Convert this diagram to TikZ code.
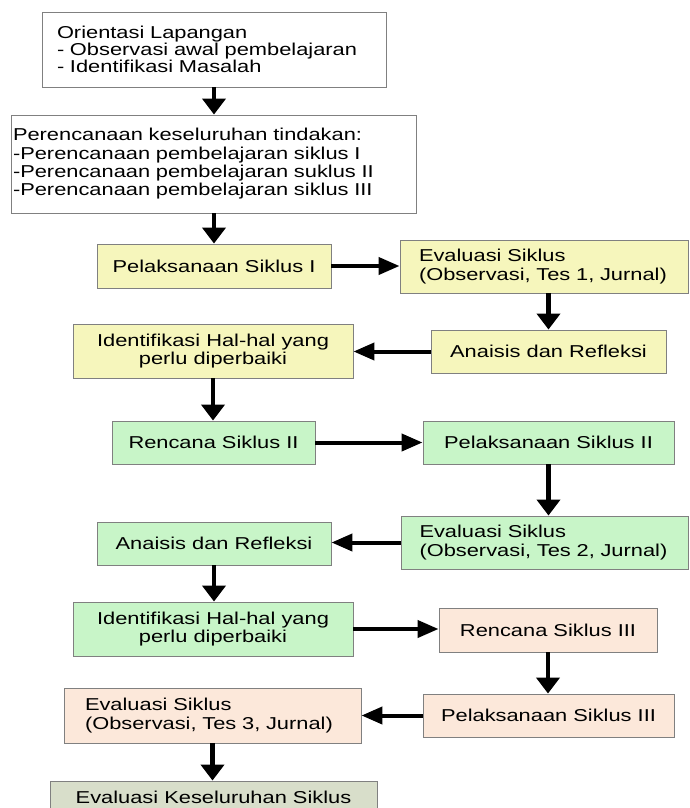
\documentclass[tikz,border=0pt]{standalone}
\usepackage{fontspec}
\newfontfamily\kotakfont[FakeStretch=1.27]{Liberation Sans}
\usetikzlibrary{arrows.meta}
\definecolor{garis}{RGB}{128,128,128}
\definecolor{kuning}{RGB}{246,246,188}
\definecolor{hijau}{RGB}{200,245,200}
\definecolor{krem}{RGB}{252,232,218}
\definecolor{abu}{RGB}{216,222,202}

\begin{document}
\begin{tikzpicture}[x=1pt,y=-1pt,
    kotak/.style={draw=garis, line width=0.9pt, inner sep=0pt, align=center,
      font=\kotakfont\fontsize{17.2}{18.5}\selectfont},
    panah/.style={line width=4.5pt, -{Triangle[length=16pt,width=23pt]}},
    panahx/.style={line width=4pt, -{Triangle[length=21pt,width=17pt]}}]
    \useasboundingbox (0,0) rectangle (689,808);
    \fill[white] (0,0) rectangle (689,808);

    \node[kotak, fill=white, minimum width=344pt, minimum height=75pt, text width=314pt, align=left,
      font=\kotakfont\fontsize{17.2}{17.2}\selectfont] (orient) at (214,49.5)
      {Orientasi Lapangan\\- Observasi awal pembelajaran\\- Identifikasi Masalah};
    \node[kotak, fill=white, minimum width=405pt, minimum height=98pt, text width=401pt, align=left,
      font=\kotakfont\fontsize{17.2}{18.3}\selectfont] (rencana) at (213.5,164)
      {Perencanaan keseluruhan tindakan:\\-Perencanaan pembelajaran siklus I\\-Perencanaan pembelajaran suklus II\\-Perencanaan pembelajaran siklus III};

    \node[kotak, fill=kuning, minimum width=234pt, minimum height=44pt] (pel1) at (214,266) {Pelaksanaan Siklus I};
    \node[kotak, fill=kuning, minimum width=288pt, minimum height=53pt, text width=250pt, align=left,
      font=\kotakfont\fontsize{17.2}{19.3}\selectfont] (eval1) at (544,266.5)
      {Evaluasi Siklus\\(Observasi, Tes 1, Jurnal)};
    \node[kotak, fill=kuning, minimum width=235pt, minimum height=43pt] (ana1) at (548.5,351.5) {Anaisis dan Refleksi};
    \node[kotak, fill=kuning, minimum width=280pt, minimum height=54pt] (iden1) at (213,351)
      {Identifikasi Hal-hal yang\\perlu diperbaiki};

    \node[kotak, fill=hijau, minimum width=203pt, minimum height=43pt] (ren2) at (213.5,442.5) {Rencana Siklus II};
    \node[kotak, fill=hijau, minimum width=251pt, minimum height=43pt] (pel2) at (548.5,442.5) {Pelaksanaan Siklus II};
    \node[kotak, fill=hijau, minimum width=287pt, minimum height=53pt, text width=250pt, align=left,
      font=\kotakfont\fontsize{17.2}{19.3}\selectfont] (eval2) at (544.5,542.5)
      {Evaluasi Siklus\\(Observasi, Tes 2, Jurnal)};
    \node[kotak, fill=hijau, minimum width=234pt, minimum height=43pt] (ana2) at (214,543.5) {Anaisis dan Refleksi};
    \node[kotak, fill=hijau, minimum width=280pt, minimum height=54pt] (iden2) at (213,629)
      {Identifikasi Hal-hal yang\\perlu diperbaiki};

    \node[kotak, fill=krem, minimum width=218pt, minimum height=44pt] (ren3) at (548,630) {Rencana Siklus III};
    \node[kotak, fill=krem, minimum width=251pt, minimum height=43pt] (pel3) at (548.5,715.5) {Pelaksanaan Siklus III};
    \node[kotak, fill=krem, minimum width=297pt, minimum height=55pt, text width=255pt, align=left,
      font=\kotakfont\fontsize{17.2}{19.3}\selectfont] (eval3) at (212.5,715.5)
      {Evaluasi Siklus\\(Observasi, Tes 3, Jurnal)};
    \node[kotak, fill=abu, minimum width=327pt, minimum height=32pt] (akhir) at (213.5,797) {Evaluasi Keseluruhan Siklus};

    \draw[panah] (orient.south) -- (orient.south |- rencana.north);
    \draw[panah] (rencana.south -| pel1.north) -- (pel1.north);
    \draw[panahx] (pel1.east) -- (pel1.east -| eval1.west);
    \draw[panah] (eval1.south -| ana1.north) -- (ana1.north);
    \draw[panahx] (ana1.west) -- (ana1.west -| iden1.east);
    \draw[panah] (iden1.south) -- (iden1.south |- ren2.north);
    \draw[panahx] (ren2.east) -- (ren2.east -| pel2.west);
    \draw[panah] (pel2.south) -- (pel2.south |- eval2.north);
    \draw[panahx] (eval2.west) -- (eval2.west -| ana2.east);
    \draw[panah] (ana2.south) -- (ana2.south |- iden2.north);
    \draw[panahx] (iden2.east) -- (iden2.east -| ren3.west);
    \draw[panah] (ren3.south) -- (ren3.south |- pel3.north);
    \draw[panahx] (pel3.west) -- (pel3.west -| eval3.east);
    \draw[panah] (eval3.south) -- (eval3.south |- akhir.north);
\end{tikzpicture}
\end{document}
